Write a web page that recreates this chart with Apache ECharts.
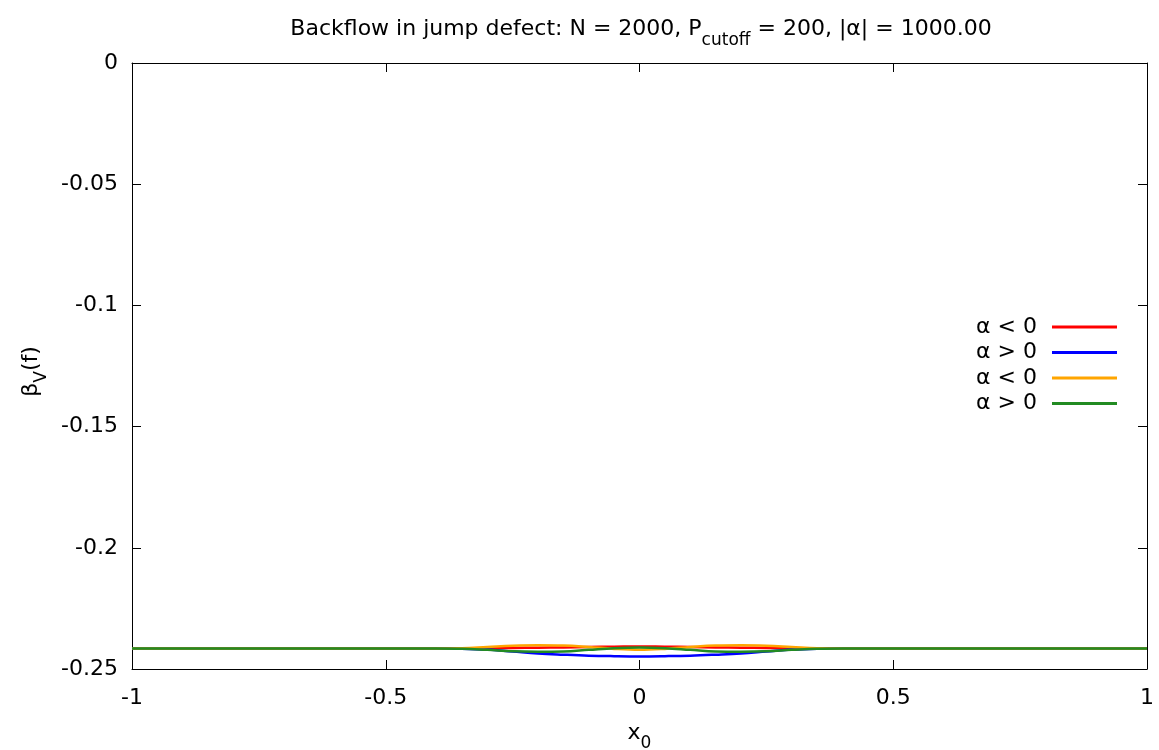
<!DOCTYPE html>
<html>
<head>
<meta charset="utf-8">
<script src="https://cdn.jsdelivr.net/npm/echarts@6/dist/echarts.min.js"></script>
<style>
  html, body { margin: 0; padding: 0; background: #fff; }
  #chart { width: 1159px; height: 750px; }
</style>
</head>
<body>
<div id="chart"></div>
<script>
// Sample positions x0 (step 0.05 over [-1, 1])
const xValues = [
  -1, -0.95, -0.9, -0.85, -0.8, -0.75, -0.7, -0.65, -0.6, -0.55, -0.5,
  -0.45, -0.4, -0.35, -0.3, -0.25, -0.2, -0.15, -0.1, -0.05, 0,
  0.05, 0.1, 0.15, 0.2, 0.25, 0.3, 0.35, 0.4, 0.45, 0.5,
  0.55, 0.6, 0.65, 0.7, 0.75, 0.8, 0.85, 0.9, 0.95, 1
];

const B = -0.2415; // flat level away from the defect

// β_V(f) for each case
const redValues = [
  B, B, B, B, B, B, B, B, B, B, B,
  B, -0.2415, -0.2415, -0.2414, -0.2413, -0.2412, -0.2411, -0.2409, -0.2408, -0.2407,
  -0.2408, -0.2409, -0.2411, -0.2412, -0.2413, -0.2414, -0.2415, -0.2415, B, B,
  B, B, B, B, B, B, B, B, B, B
];
const blueValues = [
  B, B, B, B, B, B, B, B, B, B, B,
  B, -0.2415, -0.2416, -0.2420, -0.2428, -0.2436, -0.2441, -0.2445, -0.2447, -0.2448,
  -0.2447, -0.2445, -0.2441, -0.2436, -0.2428, -0.2420, -0.2416, -0.2415, B, B,
  B, B, B, B, B, B, B, B, B, B
];
const orangeValues = [
  B, B, B, B, B, B, B, B, B, B, B,
  B, -0.2415, -0.2414, -0.2409, -0.2404, -0.2402, -0.2403, -0.2409, -0.2417, -0.2421,
  -0.2417, -0.2409, -0.2403, -0.2402, -0.2404, -0.2409, -0.2414, -0.2415, B, B,
  B, B, B, B, B, B, B, B, B, B
];
const greenValues = [
  B, B, B, B, B, B, B, B, B, B, B,
  B, -0.2415, -0.2416, -0.2421, -0.2427, -0.2429, -0.2428, -0.2421, -0.2414, -0.2411,
  -0.2414, -0.2421, -0.2428, -0.2429, -0.2427, -0.2421, -0.2416, -0.2415, B, B,
  B, B, B, B, B, B, B, B, B, B
];

const seriesNames = ['α < 0', 'α > 0', 'α < 0 ', 'α > 0 '];
const seriesColors = ['#ff0000', '#0000ff', '#ffa500', '#228b22'];
const seriesValues = [redValues, blueValues, orangeValues, greenValues];

const FONT = "'DejaVu Sans', sans-serif";
const FS = 22;
const subStyle = (size, drop) => ({ fontFamily: FONT, fontSize: size, color: '#000', verticalAlign: 'bottom', padding: [0, 0, -drop, 0] });
const fmt = v => (Math.abs(v) < 1e-9 ? '0' : String(Math.round(v * 100) / 100));

const chart = echarts.init(document.getElementById('chart'), null, { renderer: 'canvas' });

const axisCommon = {
  axisLine: { show: true, onZero: false, lineStyle: { color: '#000', width: 1 } },
  axisTick: { show: true, inside: true, length: 9, lineStyle: { color: '#000', width: 1 } },
  splitLine: { show: false },
};

chart.setOption({
  animation: false,
  backgroundColor: '#fff',
  title: {
    text: 'Backflow in jump defect: N = 2000, P{sub|cutoff} = 200, |α| = 1000.00',
    left: 636, top: 13, textAlign: 'center',
    textStyle: {
      fontFamily: FONT, fontSize: FS, fontWeight: 'normal', color: '#000',
      rich: { sub: subStyle(17, 9) }
    }
  },
  grid: { left: 132, right: 12, top: 63, bottom: 81, containLabel: false, outerBoundsMode: 'none' },
  legend: {
    orient: 'vertical',
    right: 37, top: 311,
    align: 'right',
    itemWidth: 65, itemHeight: 3, itemGap: 3.5,
    icon: 'rect',
    data: seriesNames,
    textStyle: { fontFamily: FONT, fontSize: FS, color: '#000', padding: [0, 10, 0, 0], lineHeight: 22 },
    formatter: n => n.trim()
  },
  xAxis: [
    Object.assign({
      type: 'value', min: -1, max: 1, interval: 0.5, position: 'bottom',
      axisLabel: { fontFamily: FONT, fontSize: FS, color: '#000', margin: 18, formatter: fmt },
      name: 'x{sub|0}', nameLocation: 'middle', nameGap: 53,
      nameTextStyle: { fontFamily: FONT, fontSize: FS, color: '#000', rich: { sub: subStyle(17, 8) } }
    }, axisCommon),
    Object.assign({
      type: 'value', min: -1, max: 1, interval: 0.5, position: 'top',
      axisLabel: { show: false }
    }, axisCommon)
  ],
  yAxis: [
    Object.assign({
      type: 'value', min: -0.25, max: 0, interval: 0.05, position: 'left',
      axisLabel: { fontFamily: FONT, fontSize: FS, color: '#000', margin: 14, formatter: fmt },
      name: 'β{sub|V}(f)', nameLocation: 'middle', nameGap: 85, nameRotate: 90,
      nameTextStyle: { fontFamily: FONT, fontSize: FS, color: '#000', padding: [0, 11, 0, 0], rich: { sub: subStyle(17, 8) } }
    }, axisCommon),
    Object.assign({
      type: 'value', min: -0.25, max: 0, interval: 0.05, position: 'right',
      axisLabel: { show: false }
    }, axisCommon)
  ],
  series: seriesNames.map((name, i) => ({
    name,
    type: 'line',
    xAxisIndex: 0, yAxisIndex: 0,
    data: xValues.map((x, j) => [x, seriesValues[i][j]]),
    smooth: 0.4,
    showSymbol: false,
    color: seriesColors[i],
    lineStyle: { color: seriesColors[i], width: 2.5 },
    z: 2 + i
  }))
});
</script>
</body>
</html>
